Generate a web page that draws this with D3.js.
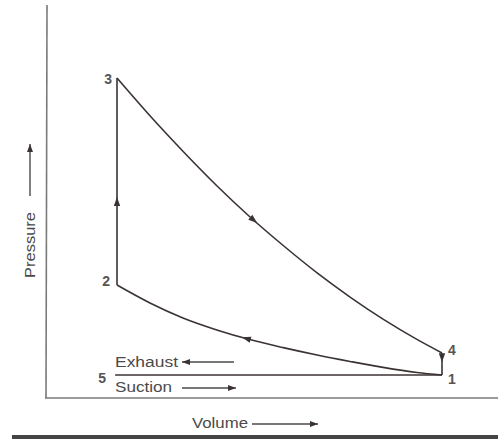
<!DOCTYPE html>
<html><head><meta charset="utf-8">
<script src="https://cdn.jsdelivr.net/npm/d3@7"></script>
<style>body{margin:0;background:#fff}svg{display:block}</style>
</head><body><svg id="c" width="498" height="439"></svg>
<script>
// ---- data ----
const expansionV = [1, 1.71, 2.42, 3.15, 3.86, 4.58, 5.31, 6.02, 6.73, 7.46, 8];
const expansionP = [13.91, 12.27, 10.73, 9.23, 7.88, 6.63, 5.44, 4.39, 3.43, 2.55, 1.96];
const compressionV = [8, 7.46, 6.73, 6.02, 5.31, 4.58, 3.86, 3.15, 2.42, 1.71, 1];
const compressionP = [1.0, 1.11, 1.33, 1.59, 1.87, 2.19, 2.54, 2.96, 3.48, 4.13, 4.91];
const stateLabels = ["1", "2", "3", "4", "5"];
const stateV = [8, 1, 1, 8, 1];
const stateP = [1.0, 4.91, 13.91, 1.96, 1.0];
const axisTitles = ["Volume", "Pressure"];
const strokeLabels = ["Exhaust", "Suction"];

// ---- layout / style ----
const svg = d3.select("#c");
const x = d3.scaleLinear().domain([1, 8]).range([117, 442]);
const y = d3.scaleLinear().domain([0, 14]).range([398, 76]);
const ink = "#3b3333", axisInk = "#7a7a7a", textInk = "#4a4a4a";
const font = "Liberation Sans, Arial, sans-serif";

// axes frame
svg.append("line").attr("x1", 47).attr("y1", 5).attr("x2", 46).attr("y2", 398)
  .attr("stroke", axisInk).attr("stroke-width", 1.6);
svg.append("line").attr("x1", 45).attr("y1", 398).attr("x2", 498).attr("y2", 398)
  .attr("stroke", axisInk).attr("stroke-width", 1.6);
// bottom rule
svg.append("line").attr("x1", 12).attr("y1", 437).attr("x2", 498).attr("y2", 437)
  .attr("stroke", "#444").attr("stroke-width", 4);

const line = d3.line().x(d => x(d[0])).y(d => y(d[1])).curve(d3.curveMonotoneX);
const straight = d3.line().x(d => x(d[0])).y(d => y(d[1]));
const exp = expansionV.map((v, i) => [v, expansionP[i]]);
const comp = compressionV.map((v, i) => [v, compressionP[i]]).reverse();
const pt = i => [stateV[i], stateP[i]];

const g = svg.append("g").attr("fill", "none").attr("stroke", ink).attr("stroke-width", 1.6);
g.append("path").attr("d", straight([[0.96, stateP[4]], pt(0)]));   // 5 - 1
g.append("path").attr("d", line(comp));                              // 1 -> 2
g.append("path").attr("d", straight([pt(1), pt(2)]));                // 2 -> 3
g.append("path").attr("d", line(exp));                               // 3 -> 4
g.append("path").attr("d", straight([pt(3), pt(0)]));                // 4 -> 1

// direction arrowheads on the cycle
function head(px, py, ang, len = 9, w = 3.2) {
  svg.append("path")
    .attr("d", `M0,0 L${-len},${-w} L${-len},${w} Z`)
    .attr("transform", `translate(${px},${py}) rotate(${ang})`)
    .attr("fill", ink);
}
function headOn(a, b) {
  const ax = x(a[0]), ay = y(a[1]), bx = x(b[0]), by = y(b[1]);
  head(bx, by, Math.atan2(by - ay, bx - ax) * 180 / Math.PI);
}
headOn(pt(1), [1, 8.74]);                  // up on 2-3
headOn(exp[4], [4.02, 7.61]);              // along expansion
headOn([3.86, 2.54], [3.69, 2.64]);        // along compression (leftward)
headOn(pt(3), [8, 1.55]);                  // down on 4-1

// state labels
const lblOff = [[6, 4], [-7, -4], [-5, 1], [6, -3], [-11, 3]];
const lblAnchor = ["start", "end", "end", "start", "end"];
svg.selectAll("text.st").data(stateLabels).join("text").attr("class", "st")
  .attr("x", (d, i) => x(stateV[i]) + lblOff[i][0])
  .attr("y", (d, i) => y(stateP[i]) + lblOff[i][1])
  .attr("dy", "0.35em").attr("text-anchor", (d, i) => lblAnchor[i])
  .attr("font-family", font).attr("font-size", 14).attr("font-weight", "bold")
  .attr("fill", "#555").text(d => d);

function arrow(x1, y1, x2, y2) {
  svg.append("line").attr("x1", x1).attr("y1", y1).attr("x2", x2).attr("y2", y2)
    .attr("stroke", textInk).attr("stroke-width", 1.4);
  head(x2, y2, Math.atan2(y2 - y1, x2 - x1) * 180 / Math.PI, 8, 3);
}

svg.append("text").attr("x", 115).attr("y", 362).attr("dy", "0.35em")
  .attr("font-family", font).attr("font-size", 14).attr("fill", textInk)
  .attr("textLength", 63).attr("lengthAdjust", "spacingAndGlyphs").text(strokeLabels[0]);
arrow(234, 362, 182, 362);
svg.append("text").attr("x", 115).attr("y", 387).attr("dy", "0.35em")
  .attr("font-family", font).attr("font-size", 14).attr("fill", textInk)
  .attr("textLength", 57).attr("lengthAdjust", "spacingAndGlyphs").text(strokeLabels[1]);
arrow(182, 388, 236, 388);

svg.append("text").attr("x", 192).attr("y", 423).attr("dy", "0.35em")
  .attr("font-family", font).attr("font-size", 14).attr("fill", textInk)
  .attr("textLength", 56).attr("lengthAdjust", "spacingAndGlyphs").text(axisTitles[0]);
arrow(252, 424, 318, 424);
svg.append("text").attr("transform", "translate(30,278) rotate(-90)").attr("dy", "0.35em")
  .attr("font-family", font).attr("font-size", 14).attr("fill", textInk)
  .attr("textLength", 66).attr("lengthAdjust", "spacingAndGlyphs").text(axisTitles[1]);
arrow(30, 196, 30, 144);
</script></body></html>
